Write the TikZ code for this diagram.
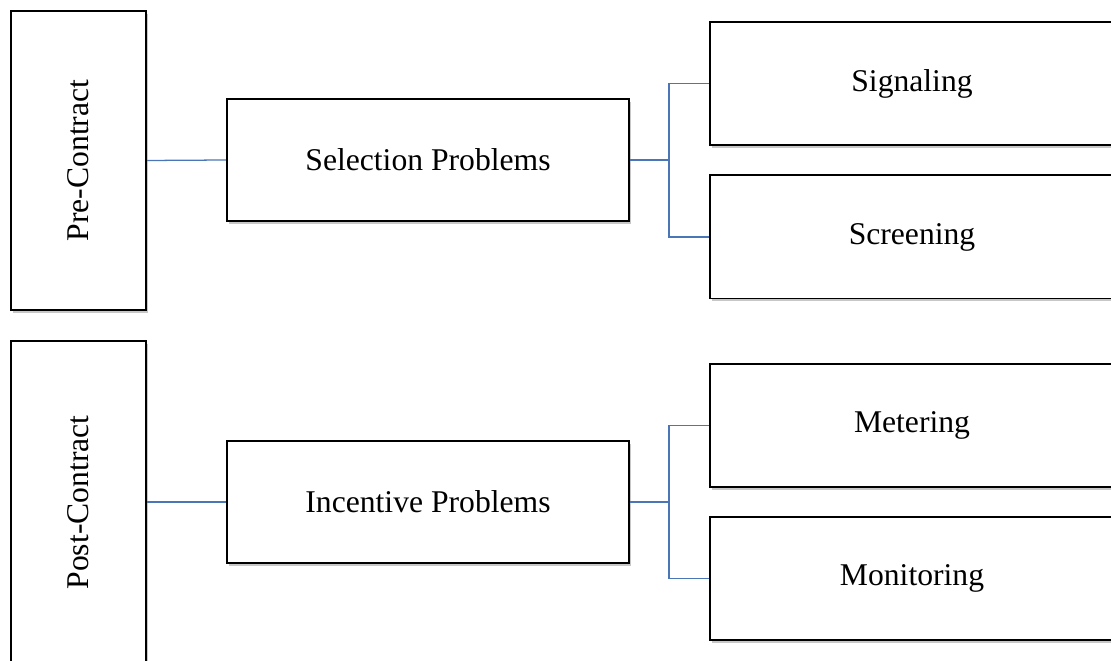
\documentclass[tikz,border=0pt]{standalone}
\usepackage{fontspec}
\setmainfont{Liberation Serif}
\usepackage{tikz}
\usepackage{xcolor}
\usetikzlibrary{shadows}

\definecolor{linkblue}{HTML}{4A76B8}

\tikzset{
  box/.style={draw=black,line width=1.4pt,fill=white,rectangle,inner sep=0pt,
    drop shadow={shadow xshift=0.04cm,shadow yshift=-0.07cm,opacity=0.22,fill=black}},
  sidebox/.style={box,minimum width=3.375cm},
  midbox/.style={box,minimum width=10.05cm,minimum height=3.05cm},
  leafbox/.style={box,minimum width=10.1cm,minimum height=3.075cm},
  link/.style={draw=linkblue,line width=0.9pt},
  boxtext/.style={font=\fontsize{22.5}{26}\selectfont}
}

\begin{document}
\begin{tikzpicture}[x=0.025cm,y=-0.025cm]
  \useasboundingbox (0,0) rectangle (1111,661);
  \begin{scope}
  \clip (0,0) rectangle (1111,661);
  % phases
  \node[sidebox,minimum height=7.475cm] (pre) at (78.5,160.5) {};
  \node[boxtext,rotate=90] (pretext) at (pre.center) {Pre-Contract};
  \node[sidebox,minimum height=8.075cm] (post) at (78.5,502.5) {};
  \node[boxtext,rotate=90] (posttext) at (post.center) {Post-Contract};
  % problems
  \node[midbox,boxtext] (sel) at (428,160) {Selection Problems};
  \node[midbox,boxtext] (inc) at (428,502) {Incentive Problems};
  % remedies
  \node[leafbox,boxtext] (sig) at (912,83.5) {Signaling};
  \node[leafbox,boxtext] (scr) at (912,237) {Screening};
  \node[leafbox,boxtext] (met) at (912,425.5) {Metering};
  \node[leafbox,boxtext] (mon) at (912,578.5) {Monitoring};
  % links
  \coordinate (selfork) at (669,160);
  \coordinate (incfork) at (669,502);
  \draw[link] (pre.east) -- (sel.west);
  \draw[link] (post.east |- inc.west) -- (inc.west);
  \draw[link] (sel.east) -- (selfork) |- (sig.west);
  \draw[link] (selfork) |- (scr.west);
  \draw[link] (inc.east) -- (incfork) |- (met.west);
  \draw[link] (incfork) |- (mon.west);
  \end{scope}
\end{tikzpicture}
\end{document}
